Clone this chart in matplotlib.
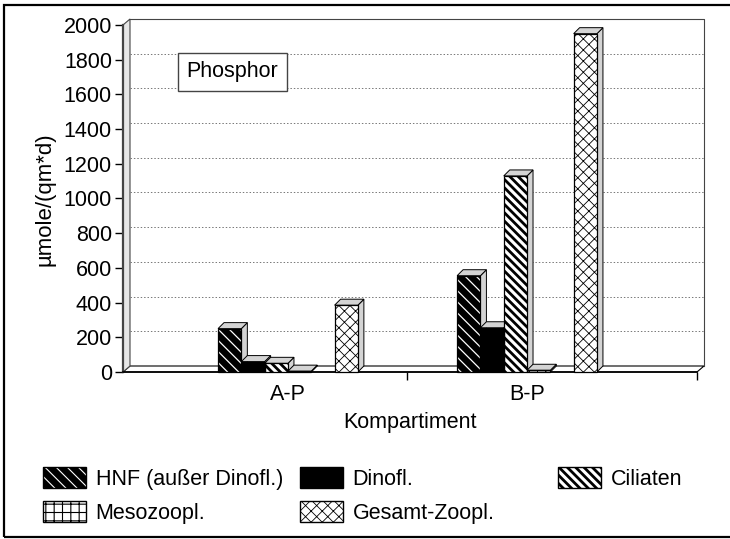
import matplotlib
matplotlib.use('Agg')
import matplotlib.pyplot as plt
from matplotlib.patches import Rectangle, Polygon
from matplotlib.legend_handler import HandlerTuple
import numpy as np

plt.rcParams['font.family'] = ['Liberation Sans', 'DejaVu Sans']

# daten (umole/(qm*d))
kompartiment = ['A-P', 'B-P']
hnf = [250, 555]
dinofl = [60, 255]
ciliaten = [50, 1130]
mesozoopl = [5, 10]
gesamt = [385, 1950]

namen = ['HNF (außer Dinofl.)', 'Dinofl.', 'Ciliaten', 'Mesozoopl.', 'Gesamt-Zoopl.']
yticks = [0, 200, 400, 600, 800, 1000, 1200, 1400, 1600, 1800, 2000]

W, H = 730, 539
fs = 15.5

fig = plt.figure(figsize=(W / 100, H / 100), dpi=100)
ax = fig.add_axes([123 / W, 1 - 372 / H, (697 - 123) / W, (372 - 25) / H])
x0, x1 = -0.69, 1.711
ax.set_xlim(x0, x1)
ax.set_ylim(0, 2000)

# pixel -> daten umrechnung fuer die 3d-tiefe
sx = ax.transData.transform((1, 1)) - ax.transData.transform((0, 0))
def tiefe(px, py):
    return px / sx[0], py / sx[1]

wdx, wdy = tiefe(7, 6)   # wand
bdx, bdy = tiefe(6, 6)   # balken


def mit_hatch_lw(artist, lw):
    # schraffur-linienbreite nur fuer dieses artist
    orig = artist.draw
    def draw(renderer, *args, **kwargs):
        with plt.rc_context({'hatch.linewidth': lw}):
            return orig(renderer, *args, **kwargs)
    artist.draw = draw
    if hasattr(artist, 'set_hatch_linewidth'):
        artist.set_hatch_linewidth(lw)


# boden, linke wand, rueckwand
ax.add_patch(Polygon([(x0, 0), (x1, 0), (x1 + wdx, wdy), (x0 + wdx, wdy)],
                     facecolor='white', edgecolor='black', lw=0.8, clip_on=False, zorder=1))
ax.add_patch(Polygon([(x0, 0), (x0, 2000), (x0 + wdx, 2000 + wdy), (x0 + wdx, wdy)],
                     facecolor='#e6e6e6', edgecolor='#444444', lw=0.8, clip_on=False, zorder=1))
ax.plot([x0 + wdx, x1 + wdx, x1 + wdx], [2000 + wdy, 2000 + wdy, wdy],
        color='#444444', lw=0.8, clip_on=False, zorder=1)
ax.hlines([y + wdy for y in yticks[1:-1]], x0 + wdx, x1 + wdx, colors='#777777',
          linestyles=(0, (1.5, 2)), lw=0.7, clip_on=False, zorder=1)

# balken
bw = 23.3 / 239
slots = [0, 1, 2, 3, 5]
werte = [hnf, dinofl, ciliaten, mesozoopl, gesamt]
stile = [
    dict(color='black', edgecolor='white', hatch='\\\\\\', hlw=0.9),
    dict(color='black', edgecolor='black', hatch=None, hlw=0.8),
    dict(color='white', edgecolor='black', hatch='\\\\\\\\', hlw=2.0),
    dict(color='white', edgecolor='black', hatch='++', hlw=0.7),
    dict(color='white', edgecolor='black', hatch='xxx', hlw=0.6),
]

for i, (vals, st) in enumerate(zip(werte, stile)):
    for c in range(len(kompartiment)):
        left = c + (slots[i] - 3) * bw
        h = vals[c]
        side = [(left + bw, 0), (left + bw, h), (left + bw + bdx, h + bdy), (left + bw + bdx, bdy)]
        top = [(left, h), (left + bw, h), (left + bw + bdx, h + bdy), (left + bdx, h + bdy)]
        for poly in (side, top):
            ax.add_patch(Polygon(poly, facecolor='#d4d4d4', edgecolor='black', lw=0.7,
                                 clip_on=False, zorder=2))
        bars = ax.bar(left, h, bw, align='edge', color=st['color'], edgecolor=st['edgecolor'],
                      hatch=st['hatch'], lw=0, zorder=3, clip_on=False)
        for b in bars:
            mit_hatch_lw(b, st['hlw'])
        ax.bar(left, h, bw, align='edge', fill=False, edgecolor='black', lw=0.9, zorder=4, clip_on=False)

# achsen
for s in ['top', 'right']:
    ax.spines[s].set_visible(False)
ax.spines['left'].set_color('#444444')
ax.spines['left'].set_linewidth(1.6)
ax.spines['bottom'].set_linewidth(1.2)
ax.set_yticks(yticks)
ax.tick_params(axis='y', length=6, width=1, pad=2, labelsize=fs)
ax.set_xticks([0, 1])
ax.set_xticklabels(kompartiment)
ax.set_xticks([0.5, x1], minor=True)
ax.tick_params(axis='x', which='major', length=0, pad=9, labelsize=fs)
ax.tick_params(axis='x', which='minor', length=6, width=1)
ax.set_xlabel('Kompartiment', fontsize=fs, labelpad=5)
ax.set_ylabel('µmole/(qm*d)', fontsize=fs + 0.5)
ax.yaxis.set_label_coords(-0.118, 0.499)

ax.text(0.19, 0.865, 'Phosphor', transform=ax.transAxes, fontsize=fs, ha='center', va='center',
        bbox=dict(boxstyle='square,pad=0.4', facecolor='white', edgecolor='#444444', lw=1))

# legende
def proxy(st):
    p = Rectangle((0, 0), 1, 1, facecolor=st['color'], edgecolor=st['edgecolor'],
                  hatch=st['hatch'], lw=0)
    rand = Rectangle((0, 0), 1, 1, fill=False, edgecolor='black', lw=1)
    return (p, rand)

spalten = [([0, 3], 43, 0.8), ([1, 4], 300, 0.6), ([2], 558, 2.0)]
for idx, xp, hlw in spalten:
    with plt.rc_context({'hatch.linewidth': hlw}):
        leg = fig.legend([proxy(stile[k]) for k in idx], [namen[k] for k in idx],
                         handler_map={tuple: HandlerTuple(ndivide=1, pad=0)},
                         loc='upper left', bbox_to_anchor=(xp / W, 1 - 467 / H), frameon=False,
                         fontsize=fs, borderpad=0, borderaxespad=0, handlelength=2.0,
                         handleheight=1.15, handletextpad=0.45, labelspacing=0.5)
    mit_hatch_lw(leg, hlw)

fig.patches.append(Rectangle((4 / W, 1 - 537 / H), 760 / W, 532 / H, transform=fig.transFigure,
                             fill=False, edgecolor='black', lw=1.6))

fig.savefig('out.png', dpi=100)
